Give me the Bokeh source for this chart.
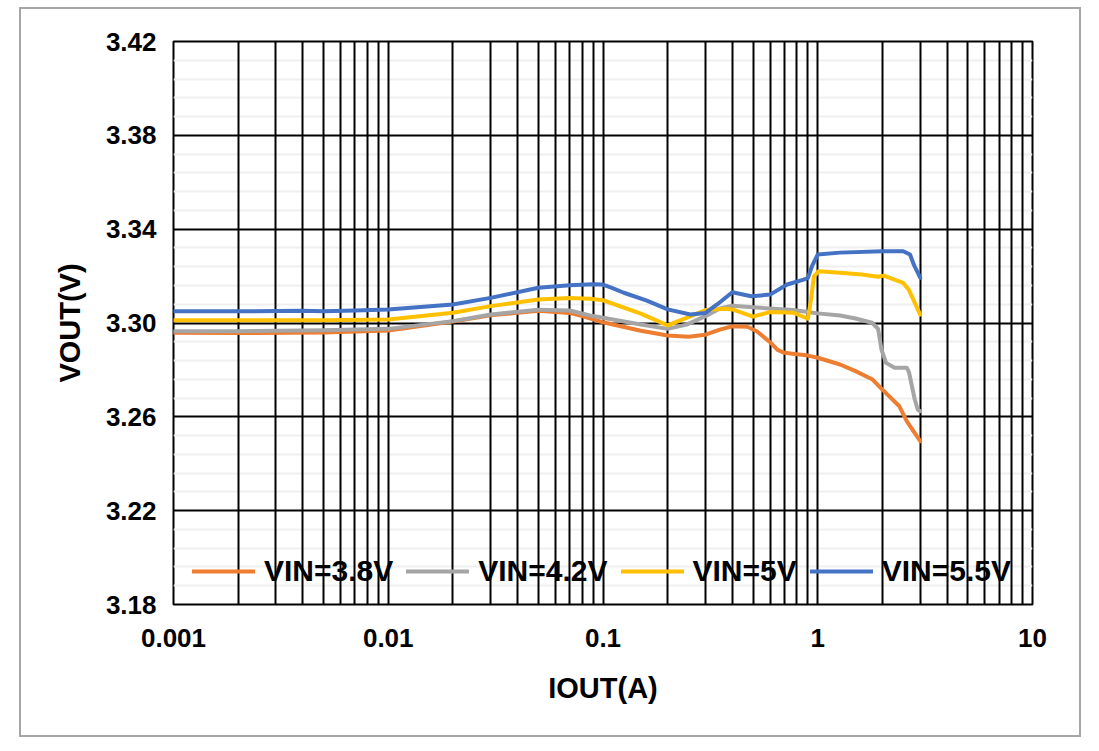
from bokeh.plotting import figure
from bokeh.models import Range1d, FixedTicker, Legend, LegendItem
from bokeh.embed import file_html
from bokeh.resources import INLINE

# ---------------- data ----------------
series_names = ["VIN=3.8V", "VIN=4.2V", "VIN=5V", "VIN=5.5V"]
series_colors = ["#ED7D31", "#A5A5A5", "#FFC000", "#4472C4"]

iout_38 = [0.001, 0.002, 0.005, 0.01, 0.02, 0.03, 0.05, 0.07, 0.08, 0.1, 0.15, 0.2,
           0.25, 0.3, 0.35, 0.4, 0.47, 0.52, 0.6, 0.65, 0.7, 0.8, 0.9, 1.0, 1.27, 1.5,
           1.8, 2.0, 2.4, 2.6, 3.0]
vout_38 = [3.2958, 3.2957, 3.2960, 3.2968, 3.3006, 3.3033, 3.3052, 3.3043, 3.3030, 3.3003,
           3.2967, 3.2947, 3.2941, 3.2950, 3.2972, 3.2986, 3.2984, 3.2965, 3.2918, 3.2885,
           3.2873, 3.2867, 3.2861, 3.2852, 3.2823, 3.2795, 3.2759, 3.2716, 3.2645, 3.2581,
           3.2496]

iout_42 = [0.001, 0.002, 0.005, 0.01, 0.02, 0.03, 0.05, 0.07, 0.087, 0.1, 0.15, 0.2,
           0.245, 0.3, 0.35, 0.4, 0.5, 0.77, 0.9, 1.0, 1.27, 1.5, 1.79, 1.91, 1.98,
           2.08, 2.28, 2.6, 2.66, 2.83, 2.92, 3.0]
vout_42 = [3.2965, 3.2965, 3.2969, 3.2975, 3.3008, 3.3036, 3.3057, 3.3053, 3.3032, 3.3022,
           3.2994, 3.2975, 3.2993, 3.3029, 3.3062, 3.3074, 3.3067, 3.3055, 3.3047, 3.3041,
           3.3032, 3.3019, 3.3001, 3.2975, 3.2887, 3.2830, 3.2809, 3.2809, 3.2790, 3.2674,
           3.2631, 3.2624]

iout_50 = [0.001, 0.002, 0.005, 0.01, 0.02, 0.03, 0.05, 0.07, 0.087, 0.1, 0.15, 0.2,
           0.245, 0.3, 0.37, 0.4, 0.5, 0.6, 0.77, 0.9, 0.93, 0.96, 1.01, 1.27, 1.6,
           1.91, 2.03, 2.5, 2.65, 3.0]
vout_50 = [3.3012, 3.3012, 3.3012, 3.3015, 3.3044, 3.3072, 3.3100, 3.3107, 3.3103, 3.3097,
           3.3040, 3.2990, 3.3022, 3.3055, 3.3061, 3.3058, 3.3027, 3.3047, 3.3044, 3.3018,
           3.3100, 3.3199, 3.3221, 3.3214, 3.3207, 3.3197, 3.3202, 3.3171, 3.3143, 3.3036]

iout_55 = [0.001, 0.002, 0.004, 0.005, 0.007, 0.01, 0.02, 0.03, 0.05, 0.07, 0.09, 0.1,
           0.11, 0.125, 0.16, 0.2, 0.255, 0.3, 0.34, 0.4, 0.49, 0.6, 0.72, 0.86, 0.9,
           0.94, 1.0, 1.27, 2.0, 2.5, 2.69, 2.8, 3.0]
vout_55 = [3.3050, 3.3050, 3.3052, 3.3050, 3.3053, 3.3058, 3.3079, 3.3107, 3.3150, 3.3161,
           3.3165, 3.3164, 3.3150, 3.3129, 3.3095, 3.3058, 3.3036, 3.3043, 3.3079, 3.3131,
           3.3114, 3.3121, 3.3164, 3.3185, 3.3192, 3.3242, 3.3292, 3.3300, 3.3306, 3.3306,
           3.3292, 3.3249, 3.3193]

x_ticks = [0.001, 0.01, 0.1, 1, 10]
x_tick_labels = ["0.001", "0.01", "0.1", "1", "10"]
y_ticks = [3.18, 3.22, 3.26, 3.30, 3.34, 3.38, 3.42]
y_tick_labels = ["3.18", "3.22", "3.26", "3.30", "3.34", "3.38", "3.42"]

x_title = "IOUT(A)"
y_title = "VOUT(V)"

# ---------------- figure ----------------
FONT = "Liberation Sans"

p = figure(width=1062, height=730, x_axis_type="log",
           x_range=Range1d(x_ticks[0], x_ticks[-1]),
           y_range=Range1d(y_ticks[0], y_ticks[-1]),
           output_backend="svg", toolbar_location=None,
           min_border_left=152, min_border_right=51,
           min_border_top=32, min_border_bottom=135)
p.styles = {"border": "2px solid #A6A6A6", "margin-left": "19px", "margin-top": "7px"}
p.background_fill_color = "white"
p.border_fill_color = "white"
p.outline_line_color = "black"
p.outline_line_width = 2

x_minor = [m * t for t in x_ticks[:-1] for m in range(2, 10)]
y_minor = []
for a, b in zip(y_ticks[:-1], y_ticks[1:]):
    for k in range(1, 5):
        y_minor.append(a + (b - a) * k / 5)

xt = FixedTicker(ticks=x_ticks, minor_ticks=x_minor)
yt = FixedTicker(ticks=y_ticks, minor_ticks=y_minor)
p.xaxis.ticker = xt
p.yaxis.ticker = yt
p.xgrid.ticker = xt
p.ygrid.ticker = yt
p.xaxis.major_label_overrides = dict(zip(x_ticks, x_tick_labels))
p.yaxis.major_label_overrides = dict(zip(y_ticks, y_tick_labels))

p.ygrid.level = "image"
p.xgrid.grid_line_color = "black"
p.xgrid.grid_line_width = 2
p.xgrid.minor_grid_line_color = "black"
p.xgrid.minor_grid_line_width = 2
p.ygrid.grid_line_color = "black"
p.ygrid.grid_line_width = 2
p.ygrid.minor_grid_line_color = "#EFEFEF"
p.ygrid.minor_grid_line_width = 2

for ax in (p.xaxis[0], p.yaxis[0]):
    ax.axis_line_color = None
    ax.major_tick_line_color = None
    ax.minor_tick_line_color = None
    ax.major_tick_out = 0
    ax.major_tick_in = 0
    ax.major_label_text_font = FONT
    ax.major_label_text_font_style = "bold"
    ax.major_label_text_font_size = "26px"
    ax.major_label_text_color = "black"
    ax.axis_label_text_font = FONT
    ax.axis_label_text_font_style = "bold"
    ax.axis_label_text_font_size = "29px"
    ax.axis_label_text_color = "black"

p.xaxis.axis_label = x_title
p.yaxis.axis_label = y_title
p.xaxis.major_label_standoff = 20
p.yaxis.major_label_standoff = 13
p.xaxis.axis_label_standoff = 22
p.yaxis.axis_label_standoff = 17

xs = [iout_38, iout_42, iout_50, iout_55]
ys = [vout_38, vout_42, vout_50, vout_55]
items = []
for name, col, x, y in zip(series_names, series_colors, xs, ys):
    r = p.line(x, y, line_color=col, line_width=4, line_join="round", line_cap="round")
    items.append(LegendItem(label=name, renderers=[r]))

legend = Legend(items=items, orientation="horizontal", location=(19, 16))
legend.background_fill_alpha = 0
legend.border_line_alpha = 0
legend.padding = 0
legend.margin = 0
legend.spacing = 13
legend.glyph_width = 63
legend.glyph_height = 20
legend.label_standoff = 9
legend.label_text_font = FONT
legend.label_text_font_style = "bold"
legend.label_text_font_size = "30px"
legend.label_text_color = "black"
p.add_layout(legend)

open("out.html", "w").write(file_html(p, INLINE))
